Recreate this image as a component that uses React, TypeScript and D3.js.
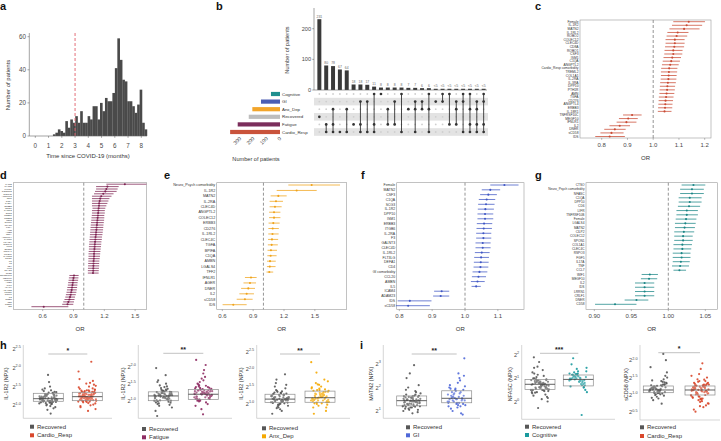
import React from 'react';
import * as d3 from 'd3';

const FONT = '"Liberation Sans", Arial, Helvetica, sans-serif';
const TXT = '#4a4a4a';

// ---------- a: histogram of time since COVID-19 ----------
const histCounts = [1, 2, 4, 3, 2, 9, 5, 10, 8, 12, 8, 15, 8, 8, 12, 10, 18, 18, 10, 20, 15, 23, 21, 21, 26, 41,
  59, 46, 34, 33, 21, 21, 18, 14, 19, 28, 8, 4];
const histStart = 1.33; // months, left edge of first bin
const histBinWidth = 0.187; // months
const histXTicks = [0, 1, 2, 3, 4, 5, 6, 7, 8];
const histYTicks = [0, 20, 40, 60];
const cutoffMonth = 3;

// ---------- b: upset ----------
const setNames = ['Cognitive', 'GI', 'Anx_Dep', 'Recovered', 'Fatigue', 'Cardio_Resp'];
const setSizes = [68, 143, 208, 235, 318, 375];
const setColors = ['#1e8f8f', '#4a5db3', '#f2a52b', '#bdbdbd', '#7b2d5b', '#c9533b'];
const interCounts = [231, 80, 78, 67, 64, 18, 18, 17, 11, 8, 8, 8, 8, 7, 7, 6, 6, 4, 4, 4, 4, 4, 4, 4, 4];
const interSets = [
  ['Recovered'], ['Fatigue', 'Cardio_Resp'], ['Anx_Dep', 'Fatigue', 'Cardio_Resp'], ['Cardio_Resp'],
  ['Anx_Dep', 'Cardio_Resp'], ['Fatigue'], ['GI', 'Fatigue', 'Cardio_Resp'], ['GI', 'Cardio_Resp'],
  ['Cognitive', 'Fatigue', 'Cardio_Resp'], ['Cognitive'], ['Anx_Dep', 'Fatigue'], ['GI', 'Fatigue'],
  ['Cognitive', 'Cardio_Resp'], ['Anx_Dep'], ['GI', 'Anx_Dep', 'Cardio_Resp'], ['GI', 'Anx_Dep'],
  ['Cognitive', 'Anx_Dep', 'Cardio_Resp'], ['GI'], ['Cognitive', 'GI'], ['Cognitive', 'Fatigue'],
  ['GI', 'Anx_Dep', 'Fatigue'], ['Cognitive', 'GI', 'Cardio_Resp'], ['Cognitive', 'Anx_Dep', 'Fatigue', 'Cardio_Resp'],
  ['GI', 'Anx_Dep', 'Fatigue', 'Cardio_Resp'], ['Cognitive', 'GI', 'Fatigue', 'Cardio_Resp'],
];
const interYTicks = [0, 100, 200];
const setXTicks = [300, 200, 100, 0];

// ---------- c: Cardio_Resp forest ----------
const cLabels = ['Female', 'IL-1R2', 'MATN2', 'IL-1RL2', 'ROBO2', 'COLEC12', 'CLEC4D', 'CD8A', 'ROBO1', 'CSF3', 'ISM1',
  'C1QA', 'ANGPTL2', 'Cardio_Resp comorbidity', 'TREML2', 'COL1A1', 'IL-2RA', 'IL-3RA', 'DPP10', 'PTH1R', 'AMN', 'TGFA',
  'CD276', 'ANGPTL4', 'ERBB3', 'IL-18R1', 'TNFRSF10C', 'MEGF10', 'IFNLR1', 'IL2', 'DNER', 'sCD58', 'IDS'];
const cOR = [1.138, 1.13, 1.12, 1.095, 1.091, 1.084, 1.084, 1.082, 1.078, 1.078, 1.074, 1.07, 1.066, 1.062, 1.061, 1.06,
  1.059, 1.057, 1.055, 1.054, 1.052, 1.05, 1.048, 1.047, 1.046, 1.044, 0.918, 0.903, 0.896, 0.87, 0.851, 0.838, 0.831];
const cLo = [1.078, 1.073, 1.063, 1.055, 1.052, 1.048, 1.048, 1.046, 1.044, 1.043, 1.04, 1.037, 1.034, 1.031, 1.03, 1.03,
  1.029, 1.027, 1.026, 1.025, 1.024, 1.022, 1.021, 1.02, 1.019, 1.018, 0.883, 0.867, 0.858, 0.83, 0.81, 0.795, 0.775];
const cHi = [1.201, 1.19, 1.18, 1.137, 1.132, 1.122, 1.122, 1.12, 1.114, 1.113, 1.108, 1.104, 1.099, 1.094, 1.093, 1.091,
  1.09, 1.088, 1.085, 1.084, 1.082, 1.079, 1.077, 1.075, 1.074, 1.071, 0.955, 0.94, 0.935, 0.91, 0.893, 0.885, 0.89];

// ---------- d: Fatigue forest ----------
const dLabels = ['IL-1R2', 'MATN2', 'Female', 'COLEC12', 'CLEC4D', 'ANGPTL2', 'ISM1', 'C1QA', 'IL-2RA', 'ERBB3', 'CD276',
  'IL-1RL2', 'SCG3', 'ROBO1', 'ROBO2', 'CSF3', 'DPP10', 'PTH1R', 'TGFA', 'AMN', 'AMBN', 'CD8A', 'ANGPTL4', 'IL-18R1',
  'LGALS4', 'CLEC4C', 'TFF2', 'SPON1', 'COL1A1', 'FLT3LG', 'GALNT3', 'CCL20', 'IL5', 'F3', 'CD4', 'LIFR', 'NFASC', 'CTSO',
  'TNFRSF10C', 'MEGF10', 'IFNLR1', 'AGER', 'WIF1', 'ICAM4', 'ADAM23', 'LRRN1', 'CRLF1', 'IL2', 'DNER', 'CD5', 'sCD58', 'IDS'];
const dOR = [1.4, 1.23, 1.22, 1.21, 1.19, 1.17, 1.16, 1.155, 1.15, 1.148, 1.145, 1.142, 1.14, 1.138, 1.135, 1.133, 1.13,
  1.128, 1.125, 1.123, 1.12, 1.118, 1.115, 1.113, 1.11, 1.108, 1.106, 1.104, 1.102, 1.1, 1.1, 1.098, 1.096, 1.095, 1.094,
  1.093, 1.092, 1.09, 0.905, 0.9, 0.897, 0.893, 0.89, 0.886, 0.882, 0.878, 0.872, 0.866, 0.86, 0.85, 0.842, 0.61];
const dLo = [1.22, 1.12, 1.12, 1.11, 1.1, 1.08, 1.08, 1.08, 1.08, 1.08, 1.085, 1.08, 1.08, 1.078, 1.075, 1.073, 1.07,
  1.068, 1.066, 1.064, 1.062, 1.06, 1.058, 1.056, 1.054, 1.052, 1.05, 1.05, 1.048, 1.046, 1.046, 1.045, 1.044, 1.043,
  1.042, 1.041, 1.04, 1.04, 0.86, 0.855, 0.852, 0.848, 0.845, 0.84, 0.836, 0.832, 0.826, 0.82, 0.812, 0.8, 0.79, 0.49];
const dHi = [1.61, 1.34, 1.33, 1.32, 1.29, 1.27, 1.25, 1.24, 1.23, 1.22, 1.21, 1.205, 1.205, 1.2, 1.2, 1.198, 1.195,
  1.192, 1.19, 1.188, 1.185, 1.182, 1.178, 1.176, 1.172, 1.17, 1.168, 1.165, 1.162, 1.16, 1.158, 1.155, 1.152, 1.15, 1.15,
  1.148, 1.146, 1.145, 0.95, 0.948, 0.945, 0.94, 0.938, 0.935, 0.932, 0.928, 0.922, 0.915, 0.91, 0.905, 0.898, 0.85];

// ---------- e: Anx_Dep forest ----------
const eLabels = ['Neuro_Psych comorbidity', 'IL-1R2', 'MATN2', 'IL-2RA', 'CLEC4D', 'ANGPTL2', 'COLEC12', 'ERBB3', 'CD276',
  'IL-1RL2', 'CLEC4C', 'TGFA', 'BPIFA', 'C1QA', 'AMBN', 'LGALS4', 'TFF2', 'IFNLR1', 'AGER', 'DNER', 'IL2', 'sCD58', 'IDS'];
const eOR = [1.469, 1.323, 1.145, 1.122, 1.112, 1.103, 1.103, 1.096, 1.09, 1.088, 1.083, 1.08, 1.073, 1.07, 1.064, 1.062,
  1.057, 0.879, 0.869, 0.853, 0.837, 0.82, 0.707];
const eLo = [1.242, 1.129, 1.07, 1.06, 1.06, 1.055, 1.055, 1.05, 1.048, 1.047, 1.045, 1.043, 1.04, 1.038, 1.035, 1.034,
  1.03, 0.82, 0.806, 0.783, 0.766, 0.74, 0.603];
const eHi = [1.745, 1.518, 1.226, 1.19, 1.177, 1.165, 1.165, 1.158, 1.15, 1.148, 1.143, 1.14, 1.132, 1.128, 1.12, 1.118,
  1.095, 0.934, 0.928, 0.918, 0.908, 0.895, 0.837];

// ---------- f: GI forest ----------
const fLabels = ['Female', 'MATN2', 'CSF3', 'C1QA', 'SCG3', 'IL-1R2', 'DPP10', 'ISM1', 'ERBB3', 'ITGB6', 'IL-2RA', 'F3',
  'GALNT3', 'CLEC4D', 'IL-1RL2', 'FLT3LG', 'DEFA1', 'CD4', 'GI comorbidity', 'CCL20', 'AMBN', 'IL5', 'ICAM4', 'ADAM23',
  'IDS', 'sCD58'];
const fOR = [1.12, 1.077, 1.071, 1.066, 1.064, 1.062, 1.061, 1.061, 1.058, 1.057, 1.056, 1.056, 1.054, 1.054, 1.051, 1.049,
  1.048, 1.047, 1.044, 1.041, 1.038, 1.034, 0.929, 0.926, 0.832, 0.827];
const fLo = [1.077, 1.051, 1.046, 1.042, 1.04, 1.039, 1.038, 1.038, 1.036, 1.035, 1.034, 1.034, 1.032, 1.032, 1.03, 1.028,
  1.027, 1.026, 1.023, 1.021, 1.018, 1.02, 0.906, 0.903, 0.795, 0.79];
const fHi = [1.163, 1.107, 1.097, 1.092, 1.09, 1.088, 1.086, 1.086, 1.083, 1.082, 1.08, 1.08, 1.078, 1.078, 1.075, 1.073,
  1.072, 1.071, 1.068, 1.064, 1.06, 1.048, 0.952, 0.952, 0.898, 0.893];

// ---------- g: Cognitive forest ----------
const gLabels = ['CTSO', 'Neuro_Psych comorbidity', 'NFASC', 'C1QA', 'DPP10', 'CD6', 'LIFR', 'TNFRSF10B', 'Female',
  'LGALS4', 'MATN2', 'CILP2', 'COLEC12', 'SPON1', 'COL1A1', 'CLEC4C', 'RSPO3', 'FGF5', 'IL17A', 'TNF', 'CCL7', 'WIF1',
  'MEGF10', 'IL2', 'IDS', 'LRRN1', 'CRLF1', 'DNER', 'CD58'];
const gOR = [1.034, 1.032, 1.032, 1.029, 1.029, 1.028, 1.025, 1.025, 1.024, 1.023, 1.022, 1.021, 1.02, 1.02, 1.019, 1.019,
  1.018, 1.018, 1.017, 1.016, 1.015, 0.975, 0.974, 0.968, 0.968, 0.968, 0.968, 0.957, 0.928];
const gLo = [1.018, 1.016, 1.016, 1.014, 1.014, 1.013, 1.011, 1.011, 1.01, 1.009, 1.009, 1.008, 1.008, 1.008, 1.007, 1.007,
  1.006, 1.006, 1.006, 1.005, 1.007, 0.964, 0.963, 0.955, 0.955, 0.955, 0.955, 0.941, 0.901];
const gHi = [1.05, 1.048, 1.048, 1.045, 1.045, 1.043, 1.04, 1.04, 1.038, 1.037, 1.036, 1.035, 1.033, 1.033, 1.032, 1.031,
  1.03, 1.03, 1.029, 1.028, 1.024, 0.986, 0.985, 0.981, 0.981, 0.981, 0.981, 0.973, 0.957];

// ---------- h / i: box plots (values are log2 NPX exponents) ----------
const h1Recovered = [1.05, 1.12, 1.18, 1.22, 1.3, 1.08, 1.15, 1.25, 1.35, 1.1, 1.2, 1.28, 1.02, 1.16, 1.4, 1.12, 0.95, 1.19,
  1.23, 1.33, 1.06, 1.14, 1.5, 1.1, 1.27, 0.88, 1.17, 1.21, 1.45, 1.09, 1.62, 1.13, 1.31, 1.0, 1.24, 0.78, 1.38, 1.15, 1.81, 1.2,
  1.11, 1.19, 1.26, 1.07, 1.14, 1.21, 1.29, 1.16, 1.03, 1.24, 1.12, 1.34, 1.18, 1.09, 1.27, 1.15, 0.98, 1.22, 1.36, 1.13, 1.2,
  1.04, 1.3, 1.17, 1.11, 1.42, 0.92, 1.25, 1.19, 1.08];
const h1Cardio = [1.1, 1.2, 1.25, 1.3, 1.4, 1.15, 1.22, 1.35, 1.05, 1.28, 1.18, 1.45, 1.12, 1.24, 1.6, 1.08, 1.33, 1.2, 0.95,
  1.27, 1.38, 1.16, 1.5, 1.23, 1.02, 1.3, 1.7, 1.14, 1.26, 1.42, 0.85, 1.19, 1.36, 1.21, 1.9, 1.1, 1.29, 1.55, 1.17, 1.32,
  2.16, 1.25, 0.9, 1.4, 1.13, 1.65, 1.22, 1.31, 1.2, 1.27, 1.34, 1.15, 1.24, 1.18, 1.31, 1.12, 1.37, 1.22, 1.29, 1.09, 1.44,
  1.26, 1.19, 1.33, 1.06, 1.39, 1.23, 1.16, 1.48, 1.28, 1.11, 1.35, 1.21, 0.98, 1.3, 1.25, 1.52, 1.17, 1.36, 1.14, 1.58, 1.24,
  1.0, 1.29, 1.41, 1.2];
const h2Recovered = [1.0, 1.1, 1.15, 1.2, 1.3, 0.95, 1.05, 1.18, 1.25, 1.4, 0.9, 1.12, 1.22, 1.08, 1.5, 0.85, 1.16, 1.28,
  1.02, 1.35, 1.13, 0.8, 1.19, 1.6, 1.06, 1.24, 0.7, 1.14, 1.45, 1.0, 1.21, 0.55, 1.1, 1.32, 1.17, 1.75, 0.92, 1.26, 1.09, 1.96,
  1.05, 1.12, 1.2, 1.27, 0.98, 1.15, 1.23, 1.08, 1.3, 1.18, 0.94, 1.11, 1.25, 1.03, 1.37, 1.16, 1.07, 1.21, 0.88, 1.28, 1.13,
  1.42, 1.01, 1.19, 1.1, 1.55, 0.97, 1.24, 1.14, 1.33];
const h2Fatigue = [1.1, 1.2, 1.3, 1.05, 1.25, 1.4, 1.15, 1.0, 1.35, 1.22, 1.5, 1.08, 1.18, 1.28, 0.95, 1.45, 1.12, 1.6, 1.24,
  0.9, 1.32, 1.17, 1.7, 1.02, 1.38, 1.2, 0.85, 1.27, 1.55, 1.14, 1.9, 1.06, 1.3, 0.75, 1.21, 2.05, 1.42, 1.1, 0.6, 2.2, 1.19, 1.34,
  1.15, 1.22, 1.3, 1.08, 1.26, 1.36, 1.18, 1.04, 1.32, 1.24, 1.12, 1.4, 1.2, 1.28, 1.1, 1.48, 1.16, 1.34, 1.06, 1.25, 1.38, 1.14,
  1.3, 1.0, 1.22, 1.65, 1.19, 1.44, 0.98, 1.27, 1.8, 1.12];
const h3Recovered = [1.05, 1.12, 1.2, 1.3, 1.0, 1.15, 1.25, 1.38, 0.95, 1.1, 1.18, 1.45, 0.9, 1.22, 1.08, 1.6, 1.14, 0.85,
  1.28, 1.02, 1.35, 1.17, 0.8, 1.5, 1.1, 1.26, 0.72, 1.19, 1.7, 1.04, 1.32, 1.13, 1.85, 0.98, 1.23, 1.07, 1.1, 1.16, 1.22, 1.03,
  1.27, 1.12, 1.19, 1.06, 1.33, 1.14, 0.97, 1.24, 1.09, 1.4, 1.17, 1.01, 1.29, 1.13, 0.93, 1.2, 1.36, 1.08, 1.55, 1.15, 1.05,
  1.26, 0.88, 1.11, 1.31, 1.18];
const h3AnxDep = [1.1, 1.2, 1.3, 1.05, 1.4, 1.15, 1.25, 1.0, 1.35, 1.5, 1.12, 1.18, 0.95, 1.45, 1.22, 1.6, 1.08, 1.28, 0.9,
  1.7, 1.16, 1.38, 1.02, 1.24, 0.8, 1.55, 1.14, 1.32, 1.9, 1.06, 1.2, 0.72, 1.42, 1.1, 2.2, 1.27, 1.15, 1.22, 1.32, 1.08, 1.26,
  1.4, 1.12, 1.2, 1.02, 1.35, 1.18, 1.48, 1.1, 1.28, 0.98, 1.24, 1.38, 1.14, 1.56, 1.06, 1.3, 1.2, 0.9, 1.44, 1.16, 1.34, 1.04,
  1.65, 1.22, 1.12];
const i1Recovered = [1.2, 1.4, 1.5, 1.6, 1.3, 1.45, 1.7, 1.1, 1.35, 1.55, 1.9, 1.25, 1.42, 1.0, 1.65, 1.48, 2.1, 1.15, 1.38,
  1.8, 1.05, 1.52, 1.28, 2.4, 0.95, 1.44, 1.62, 1.18, 2.0, 1.33, 0.9, 1.58, 1.4, 2.6, 1.22, 2.95, 1.3, 1.45, 1.55, 1.25, 1.38,
  1.6, 1.2, 1.48, 1.7, 1.35, 1.15, 1.52, 1.42, 1.28, 1.65, 1.4, 1.1, 1.5, 1.32, 1.75, 1.22, 1.46, 1.05, 1.58, 1.36, 1.85, 1.26,
  1.43, 1.62, 1.18];
const i1GI = [1.4, 1.6, 1.8, 1.3, 1.5, 2.0, 1.2, 1.7, 1.45, 2.2, 1.1, 1.55, 1.9, 1.35, 2.4, 1.0, 1.65, 1.5, 2.1, 0.9, 1.75,
  1.25, 2.6, 1.55, 0.85, 1.85, 1.4, 2.3, 1.6, 3.24, 1.15, 1.95, 1.45, 1.55, 1.7, 1.35, 1.6, 1.9, 1.3, 1.5, 1.8, 1.4, 2.05, 1.25,
  1.65, 1.5, 1.95, 1.2, 1.75, 1.45, 2.5, 1.35];
const i2Recovered = [0.5, 0.7, 0.8, 0.95, 0.6, 0.75, 1.1, 0.4, 0.85, 0.65, 1.2, 0.3, 0.9, 0.72, 1.35, 0.55, 0.2, 0.78, 1.0,
  0.45, 1.5, 0.68, 0.1, 0.88, 0.62, 1.7, 0.35, 0.8, 1.05, 0.0, 0.58, 1.9, 0.76, -0.28, 0.92, 0.5, 0.6, 0.7, 0.82, 0.5, 0.75,
  0.9, 0.45, 0.68, 1.0, 0.58, 0.8, 0.4, 0.72, 0.95, 0.55, 0.86, 0.25, 0.66, 1.15, 0.52, 0.78, 0.38, 0.92, 0.62, 1.25, 0.48,
  0.84, 0.15, 0.7, 1.45];
const i2Cognitive = [0.9, 1.0, 1.1, 0.8, 1.2, 0.95, 0.7, 1.05, 1.3, 0.85, 1.15, 0.6, 1.4, 0.98, 0.75, 1.25, 0.5, 1.08, 1.6,
  0.88, 1.18, 0.4, 1.02, 1.86, 0.92, 1.12, 0.65, -0.58, 0.95, 1.05, 0.85, 1.15, 0.75, 1.0, 1.2, 0.9, 1.1, 0.7, 1.3, 0.98, 0.82,
  1.08, 1.45, 0.88, 1.02, 0.62, 1.18, 0.95];
const i3Recovered = [1.1, 1.15, 1.2, 1.3, 1.05, 1.18, 1.25, 1.0, 1.35, 1.12, 1.22, 1.45, 0.95, 1.16, 1.28, 1.08, 1.55, 0.9,
  1.2, 1.38, 1.02, 1.65, 1.14, 0.85, 1.3, 1.1, 1.8, 0.75, 1.24, 2.0, 1.06, 1.42, 2.18, 1.17, 1.12, 1.18, 1.24, 1.08, 1.15, 1.28,
  1.04, 1.2, 1.33, 1.1, 1.16, 0.98, 1.26, 1.14, 1.4, 1.06, 1.22, 1.12, 0.92, 1.3, 1.18, 1.5, 1.02, 1.19, 1.36];
const i3Cardio = [1.0, 1.1, 1.2, 1.3, 0.95, 1.15, 1.25, 1.05, 1.35, 0.9, 1.18, 1.4, 0.85, 1.12, 1.28, 1.02, 1.5, 0.8, 1.22,
  1.08, 1.45, 0.75, 1.16, 1.32, 0.7, 1.6, 1.14, 0.65, 1.26, 1.04, 1.75, 0.58, 1.2, 1.38, 0.98, 1.91, 0.52, 1.1, 1.24, 0.92,
  1.3, 1.06, 1.05, 1.12, 1.2, 1.27, 0.96, 1.16, 1.24, 1.08, 1.33, 0.88, 1.14, 1.22, 1.02, 1.3, 0.82, 1.18, 1.1, 1.4, 0.94, 1.26,
  1.06, 0.76, 1.2, 1.35, 1.0, 1.15, 1.55, 0.9, 1.28, 1.1, 0.68, 1.22, 1.44, 1.04, 1.16, 0.86, 1.25, 1.12];

// quartiles per panel: [q1, median, q3] for each of the two groups
const h1Q = [[1.107, 1.176, 1.32], [1.123, 1.23, 1.347]];
const h2Q = [[1.0, 1.14, 1.26], [1.04, 1.19, 1.33]];
const h3Q = [[1.04, 1.14, 1.28], [1.05, 1.18, 1.37]];
const i1Q = [[1.22, 1.44, 1.64], [1.35, 1.54, 1.86]];
const i2Q = [[0.52, 0.74, 0.95], [0.67, 0.95, 1.14]];
const i3Q = [[1.066, 1.144, 1.259], [1.0, 1.144, 1.259]];

const COL = {
  Recovered: '#575757',
  Cardio_Resp: '#d9472b',
  Fatigue: '#8e2c63',
  Anx_Dep: '#f5a800',
  GI: '#4f68d8',
  Cognitive: '#1a9a9e',
};

function Hist() {
  const x = d3.scaleLinear().domain([0, 8]).range([35.3, 141.3]);
  const y = d3.scaleLinear().domain([0, 60]).range([136, 36.7]);
  return (
    <g>
      {histCounts.map((c, i) => {
        const x0 = x(histStart + i * histBinWidth);
        const x1 = x(histStart + (i + 1) * histBinWidth);
        return <rect key={i} x={x0} y={y(c)} width={x1 - x0 + 0.15} height={y(0) - y(c)} fill="#4a4a4a" />;
      })}
      <line x1={x(cutoffMonth)} x2={x(cutoffMonth)} y1={33} y2={136} stroke="#e0606a" strokeWidth={0.9} strokeDasharray="3,2" />
      <line x1={29.3} x2={29.3} y1={33} y2={136} stroke="#666" strokeWidth={0.6} />
      <line x1={29.3} x2={147} y1={136} y2={136} stroke="#666" strokeWidth={0.6} />
      {histYTicks.map(t => (
        <g key={t}>
          <line x1={27.5} x2={29.3} y1={y(t)} y2={y(t)} stroke="#666" strokeWidth={0.6} />
          <text x={26} y={y(t) + 2.2} fontSize={6.3} textAnchor="end" fill={TXT}>{t}</text>
        </g>
      ))}
      {histXTicks.map(t => (
        <g key={t}>
          <line x1={x(t)} x2={x(t)} y1={136} y2={137.8} stroke="#666" strokeWidth={0.6} />
          <text x={x(t)} y={147.5} fontSize={6.3} textAnchor="middle" fill={TXT}>{t}</text>
        </g>
      ))}
      <text x={88} y={158} fontSize={6} textAnchor="middle" fill="#333">Time since COVID-19 (months)</text>
      <text transform="translate(10,85) rotate(-90)" fontSize={6} textAnchor="middle" fill="#333">Number of patients</text>
    </g>
  );
}

function Upset() {
  const xb = d3.scaleBand<number>().domain(d3.range(interCounts.length)).range([316, 487]).paddingInner(0.42).paddingOuter(0.2);
  const y = d3.scaleLinear().domain([0, 200]).range([90, 28.7]);
  const rowY = d3.scalePoint<string>().domain(setNames).range([94, 132]);
  const xs = d3.scaleLinear().domain([0, 100]).range([280, 266.7]);
  const rowH = 7.6;
  return (
    <g>
      {setNames.map((s, i) => (i % 2 === 1 ? (
        <rect key={s} x={314} y={rowY(s)! - rowH / 2} width={174} height={rowH} fill="#e3e3e3" />
      ) : null))}
      {interCounts.map((c, i) => (
        <g key={i}>
          <rect x={xb(i)} y={y(c)} width={xb.bandwidth()} height={y(0) - y(c)} fill="#3a3a3a" />
          <text x={xb(i)! + xb.bandwidth() / 2} y={y(c) - 1.6} fontSize={3.4} textAnchor="middle" fill="#666">{c < 5 ? '<5' : c}</text>
        </g>
      ))}
      <line x1={314} x2={314} y1={8} y2={90} stroke="#666" strokeWidth={0.6} />
      <line x1={314} x2={487} y1={90} y2={90} stroke="#666" strokeWidth={0.6} />
      {interYTicks.map(t => (
        <g key={t}>
          <line x1={312.3} x2={314} y1={y(t)} y2={y(t)} stroke="#666" strokeWidth={0.6} />
          <text x={311} y={y(t) + 2} fontSize={5.6} textAnchor="end" fill={TXT}>{t}</text>
        </g>
      ))}
      <text transform="translate(289,50) rotate(-90)" fontSize={5.6} textAnchor="middle" fill="#333">Number of patients</text>
      {interSets.map((sets, i) => {
        const cx = xb(i)! + xb.bandwidth() / 2;
        const ys = sets.map(s => rowY(s)!);
        return (
          <g key={i}>
            {setNames.map(s => (
              <circle key={s} cx={cx} cy={rowY(s)} r={0.9} fill="#cfcfcf" />
            ))}
            {ys.length > 1 && (
              <line x1={cx} x2={cx} y1={d3.min(ys)} y2={d3.max(ys)} stroke="#333" strokeWidth={0.9} />
            )}
            {ys.map((yy, k) => <circle key={k} cx={cx} cy={yy} r={1.35} fill="#333" />)}
          </g>
        );
      })}
      {setNames.map((s, i) => (
        <g key={s}>
          <rect x={xs(setSizes[i])} y={rowY(s)! - 2.1} width={xs(0) - xs(setSizes[i])} height={4.2} fill={setColors[i]} />
          <text x={282} y={rowY(s)! + 1.5} fontSize={4.4} fill="#333">{s}</text>
        </g>
      ))}
      {setXTicks.map(t => (
        <text key={t} transform={`translate(${xs(t) + 1.5},${139}) rotate(-45)`} fontSize={5.2} textAnchor="end" fill={TXT}>{t}</text>
      ))}
      <text x={256} y={161} fontSize={5.6} textAnchor="middle" fill="#333">Number of patients</text>
    </g>
  );
}

function Forest(props: any) {
  const { labels, or, lo, hi, color, x0, x1, y0, y1, anchor, ticks, fmt, rows, fs } = props;
  const x = d3.scaleLinear().domain([anchor[0], anchor[2]]).range([anchor[1], anchor[3]]);
  const y = d3.scalePoint<number>().domain(d3.range(labels.length)).range(rows);
  return (
    <g>
      <rect x={x0} y={y0} width={x1 - x0} height={y1 - y0} fill="none" stroke="#9a9a9a" strokeWidth={0.6} />
      <line x1={x(1)} x2={x(1)} y1={y0} y2={y1} stroke="#7a7a7a" strokeWidth={0.8} strokeDasharray="3,2" />
      {labels.map((l: string, i: number) => (
        <g key={i}>
          <line x1={x(lo[i])} x2={x(hi[i])} y1={y(i)} y2={y(i)} stroke={color} strokeWidth={0.75} />
          <circle cx={x(or[i])} cy={y(i)} r={1.05} fill={color} />
          <text x={x0 - 1.5} y={y(i)! + fs * 0.35} fontSize={fs} textAnchor="end" fill="#333">{l}</text>
        </g>
      ))}
      {ticks.map((t: number) => (
        <g key={t}>
          <line x1={x(t)} x2={x(t)} y1={y1} y2={y1 + 1.8} stroke="#888" strokeWidth={0.6} />
          <text x={x(t)} y={y1 + 8.6} fontSize={6} textAnchor="middle" fill={TXT}>{d3.format(fmt)(t)}</text>
        </g>
      ))}
      <text x={(x0 + x1) / 2} y={y1 + 21.5} fontSize={6} textAnchor="middle" fill="#333">OR</text>
    </g>
  );
}

function BoxPanel(props: any) {
  const { ax, xEnd, yTop, yBot, anchor, ticks, tickLbl, centers, groups, q, colors, bracketY, stars, ylabel, ylabelX,
    legX, legY, names } = props;
  const y = d3.scaleLinear().domain([anchor[0], anchor[2]]).range([anchor[1], anchor[3]]);
  const bw = 30;
  const jit = 18;
  return (
    <g>
      <line x1={ax} x2={ax} y1={yTop} y2={yBot} stroke="#c4c4c4" strokeWidth={0.7} />
      <line x1={ax} x2={xEnd} y1={yBot} y2={yBot} stroke="#c4c4c4" strokeWidth={0.7} />
      {ticks.map((t: number, k: number) => (
        <text key={t} x={ax - 2.5} y={y(t) + 2} fontSize={5.6} textAnchor="end" fill={TXT}>
          2<tspan dy={-2.6} fontSize={3.8}>{tickLbl[k]}</tspan>
        </text>
      ))}
      <text transform={`translate(${ylabelX},${(yTop + yBot) / 2 + 2}) rotate(-90)`} fontSize={5.4} textAnchor="middle" fill="#333">{ylabel}</text>
      {groups.map((vals: number[], g: number) => (
        <g key={g}>
          {vals.map((v, i) => (
            <circle key={i} cx={centers[g] + (((i * 0.6180339) % 1) - 0.5) * jit} cy={y(v)} r={1.1} fill={colors[g]} opacity={0.9} />
          ))}
        </g>
      ))}
      {q.map((s: number[], g: number) => (
        <g key={g}>
          <rect x={centers[g] - bw / 2} y={y(s[2])} width={bw} height={y(s[0]) - y(s[2])} fill="#fff" fillOpacity={0.22} stroke="#8c8c8c" strokeWidth={0.7} />
          <line x1={centers[g] - bw / 2} x2={centers[g] + bw / 2} y1={y(s[1])} y2={y(s[1])} stroke="#3a3a3a" strokeWidth={0.8} />
        </g>
      ))}
      <line x1={centers[0]} x2={centers[1]} y1={bracketY} y2={bracketY} stroke="#999" strokeWidth={0.6} />
      <text x={(centers[0] + centers[1]) / 2} y={bracketY - 1.5} fontSize={7} textAnchor="middle" fill="#222" fontWeight="bold">{stars}</text>
      {names.map((n: string, k: number) => (
        <g key={n}>
          <rect x={legX} y={legY[k] - 2} width={4} height={4} fill={colors[k]} />
          <text x={legX + 7} y={legY[k] + 2.1} fontSize={6} fill="#333">{n}</text>
        </g>
      ))}
    </g>
  );
}

const Letter = ({ x, y, t }: any) => (
  <text x={x} y={y} fontSize={11} fontWeight="bold" fill="#111">{t}</text>
);

export default function App() {
  return (
    <svg width={721} height={441} viewBox="0 0 721 441" style={{ position: 'absolute', left: 0, top: 0, background: '#fff' }} fontFamily={FONT}>
      <rect width={721} height={441} fill="#fff" />
      <Letter x={0} y={10} t="a" />
      <Letter x={216} y={10} t="b" />
      <Letter x={535} y={10} t="c" />
      <Letter x={0} y={179} t="d" />
      <Letter x={164} y={179} t="e" />
      <Letter x={361} y={179} t="f" />
      <Letter x={535} y={179} t="g" />
      <Letter x={0} y={349} t="h" />
      <Letter x={360} y={349} t="i" />

      <Hist />
      <Upset />

      <Forest labels={cLabels} or={cOR} lo={cLo} hi={cHi} color="#c94a33" x0={580} x1={711} y0={20} y1={138}
        anchor={[0.8, 601.7, 1.2, 704.7]} ticks={[0.8, 0.9, 1.0, 1.1, 1.2]} fmt=".1f" rows={[21.7, 136.5]} fs={3.3} />
      <Forest labels={dLabels} or={dOR} lo={dLo} hi={dHi} color="#7d2352" x0={13.3} x1={146.7} y0={182.7} y1={309.3}
        anchor={[0.6, 42.7, 1.2, 104.3]} ticks={[0.6, 0.9, 1.2, 1.5]} fmt=".1f" rows={[184.2, 306.7]} fs={2.2} />
      <Forest labels={eLabels} or={eOR} lo={eLo} hi={eHi} color="#f0a31a" x0={216.7} x1={346.7} y0={182.7} y1={309.3}
        anchor={[0.6, 222.3, 1.2, 284]} ticks={[0.6, 0.9, 1.2, 1.5]} fmt=".1f" rows={[185, 304.7]} fs={3.7} />
      <Forest labels={fLabels} or={fOR} lo={fLo} hi={fHi} color="#3f56c4" x0={396.7} x1={524} y0={182.7} y1={309.3}
        anchor={[0.8, 399.3, 1.0, 465]} ticks={[0.8, 0.9, 1.0, 1.1]} fmt=".1f" rows={[185, 305.7]} fs={3.5} />
      <Forest labels={gLabels} or={gOR} lo={gLo} hi={gHi} color="#1a8585" x0={586} x1={717.3} y0={182.7} y1={309.3}
        anchor={[0.9, 594.3, 1.0, 668.3]} ticks={[0.9, 0.95, 1.0, 1.05]} fmt=".2f" rows={[185, 304.3]} fs={3.2} />

      <BoxPanel ax={23.3} xEnd={112} yTop={345} yBot={418.3} anchor={[1.0, 405.3, 2.5, 349]} ticks={[1.0, 1.5, 2.0, 2.5]}
        tickLbl={['1.0', '1.5', '2.0', '2.5']} centers={[48.3, 87.3]} groups={[h1Recovered, h1Cardio]} q={h1Q}
        colors={[COL.Recovered, COL.Cardio_Resp]} bracketY={354} stars="*" ylabel="IL-1R2 (NPX)" ylabelX={8}
        legX={30} legY={[426.7, 435.3]} names={['Recovered', 'Cardio_Resp']} />
      <BoxPanel ax={138.3} xEnd={232} yTop={345} yBot={418.3} anchor={[1.0, 400.7, 2.0, 366.7]} ticks={[1.0, 1.5, 2.0]}
        tickLbl={['1.0', '1.5', '2.0']} centers={[163.3, 203.3]} groups={[h2Recovered, h2Fatigue]} q={h2Q}
        colors={[COL.Recovered, COL.Fatigue]} bracketY={353.3} stars="**" ylabel="IL-1R2 (NPX)" ylabelX={125}
        legX={142} legY={[429, 437.3]} names={['Recovered', 'Fatigue']} />
      <BoxPanel ax={256.7} xEnd={350} yTop={345} yBot={418.3} anchor={[1.0, 404, 2.5, 351.7]} ticks={[1.0, 1.5, 2.0, 2.5]}
        tickLbl={['1.0', '1.5', '2.0', '2.5']} centers={[280, 320]} groups={[h3Recovered, h3AnxDep]} q={h3Q}
        colors={[COL.Recovered, COL.Anx_Dep]} bracketY={354} stars="**" ylabel="IL-1R2 (NPX)" ylabelX={243.3}
        legX={262} legY={[428.3, 436.3]} names={['Recovered', 'Anx_Dep']} />
      <BoxPanel ax={383.3} xEnd={480} yTop={345} yBot={418.3} anchor={[1, 411, 3, 364]} ticks={[1, 2, 3]}
        tickLbl={['1', '2', '3']} centers={[411.7, 456.7]} groups={[i1Recovered, i1GI]} q={i1Q}
        colors={[COL.Recovered, COL.GI]} bracketY={354} stars="**" ylabel="MATN2 (NPX)" ylabelX={373.3}
        legX={406} legY={[427.3, 435.3]} names={['Recovered', 'GI']} />
      <BoxPanel ax={521.7} xEnd={615} yTop={345} yBot={419.3} anchor={[0, 401.5, 2, 355]} ticks={[0, 1, 2]}
        tickLbl={['0', '1', '2']} centers={[540, 578.3]} groups={[i2Recovered, i2Cognitive]} q={i2Q}
        colors={[COL.Recovered, COL.Cognitive]} bracketY={353.3} stars="***" ylabel="NFASC (NPX)" ylabelX={511.7}
        legX={525} legY={[426.7, 435]} names={['Recovered', 'Cognitive']} />
      <BoxPanel ax={640} xEnd={720} yTop={345} yBot={420} anchor={[1.0, 395, 2.0, 360.2]} ticks={[0.5, 1.0, 1.5, 2.0]}
        tickLbl={['0.5', '1.0', '1.5', '2.0']} centers={[658.3, 700]} groups={[i3Recovered, i3Cardio]} q={i3Q}
        colors={[COL.Recovered, COL.Cardio_Resp]} bracketY={352.7} stars="*" ylabel="sCD58 (NPX)" ylabelX={628.3}
        legX={640} legY={[427.3, 436]} names={['Recovered', 'Cardio_Resp']} />
    </svg>
  );
}
